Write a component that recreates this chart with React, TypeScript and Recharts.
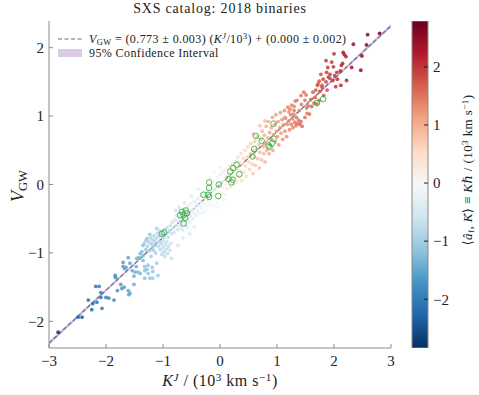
import React from "react";
import { Area, Bar, BarChart, ComposedChart, Line, Scatter, XAxis, YAxis } from "recharts";

const W = 479;
const H = 395;
const FONT = '"Liberation Serif", "DejaVu Serif", serif';

const xTicks = [-3, -2, -1, 0, 1, 2, 3];
const yTicks = [-2, -1, 0, 1, 2];
const cbTicks = [-2, -1, 0, 1, 2];
const xDomain = [-3, 3];
const yDomain = [-2.39, 2.39];
const cDomain = [-2.84, 2.79];

// linear fit quoted in the legend
const fitSlope = 0.773;
const fitSlopeErr = 0.003;
const fitIntercept = 0.0;
const fitInterceptErr = 0.002;
const fitGrid = [-3, -2, -1, 0, 1, 2, 3];

// [K^J, V_GW, colour value]
const blueTail: number[][] = [
  [-2.84, -2.16, -2.75], [-2.49, -1.94, -2.4], [-2.42, -1.94, -2.35],
  [-2.31, -1.69, -2.2], [-2.25, -1.83, -2.2], [-2.23, -1.74, -2.15], [-2.16, -1.72, -2.1],
  [-2.18, -1.49, -2.05], [-2.12, -1.49, -2.0], [-2.09, -1.58, -2.0], [-2.09, -1.65, -2.05],
  [-2.07, -1.81, -2.0], [-2.0, -1.65, -1.95], [-1.95, -1.66, -1.9], [-1.86, -1.69, -1.8],
  [-1.84, -1.33, -1.8], [-1.83, -1.36, -1.75], [-1.8, -1.55, -1.7], [-1.74, -1.46, -1.65],
  [-1.72, -1.52, -1.7], [-1.7, -1.2, -1.6], [-1.67, -1.23, -1.6], [-1.68, -1.5, -1.6],
  [-1.61, -1.07, -1.5], [-1.6, -1.61, -1.5], [-1.58, -1.15, -1.5], [-1.51, -1.46, -1.4],
  [-1.51, -1.34, -1.4], [-1.47, -1.2, -1.4], [-1.46, -1.08, -1.35], [-1.42, -1.07, -1.35],
  [-1.44, -1.28, -1.3], [-1.4, -1.01, -1.3], [-1.37, -0.98, -1.25], [-1.35, -1.11, -1.25],
  [-1.32, -1.2, -1.2], [-1.28, -1.24, -1.2], [-1.26, -1.3, -1.15], [-1.23, -1.37, -1.1],
  [-1.18, -1.27, -1.1], [-1.11, -1.15, -1.0], [-1.09, -1.33, -1.0], [-1.19, -0.93, -1.1],
  [-1.14, -0.89, -1.05], [-1.28, -0.79, -1.15], [-1.23, -0.73, -1.1], [-1.35, -0.89, -1.2],
  [-1.11, -0.64, -0.95], [-1.7, -1.14, -1.6], [-1.65, -1.21, -1.55], [-1.54, -1.26, -1.45],
  [-1.49, -1.28, -1.4], [-1.35, -1.04, -1.25], [-1.26, -1.18, -1.15], [-1.19, -1.21, -1.1],
  [-1.32, -1.26, -1.2], [-1.4, -1.3, -1.3], [-1.18, -1.37, -1.05], [-1.32, -1.37, -1.2],
  [-1.58, -1.59, -1.5], [-1.61, -1.55, -1.5],
];

const coreBand: number[][] = [
  [-1.33, -0.86, -1.0], [-1.3, -0.82, -1.0], [-1.27, -0.9, -0.95], [-1.25, -0.84, -0.95],
  [-1.22, -0.78, -0.9], [-1.2, -0.87, -0.95], [-1.18, -0.81, -0.9], [-1.16, -0.75, -0.85],
  [-1.14, -0.84, -0.9], [-1.12, -0.79, -0.85], [-1.1, -0.71, -0.8], [-1.08, -0.76, -0.8],
  [-1.3, -0.95, -1.05], [-1.24, -0.97, -1.0], [-1.17, -0.96, -0.95], [-1.13, -1.0, -0.95],
  [-1.21, -1.05, -1.0], [-1.06, -0.68, -0.75],
  [-1.08, -0.9, -0.8], [-1.05, -0.95, -0.8], [-1.03, -0.87, -0.75], [-1.0, -0.92, -0.75],
  [-0.98, -0.98, -0.8], [-0.96, -0.88, -0.7], [-0.94, -0.94, -0.7], [-0.92, -1.01, -0.75],
  [-0.9, -0.9, -0.7], [-0.88, -0.96, -0.65], [-1.02, -1.02, -0.8], [-0.97, -1.05, -0.75],
  [-1.06, -0.84, -0.8], [-0.86, -0.86, -0.65], [-0.93, -0.84, -0.7], [-1.0, -0.83, -0.75],
  [-1.04, -0.74, -0.85], [-1.01, -0.7, -0.8], [-0.99, -0.78, -0.8], [-0.97, -0.66, -0.75],
  [-0.95, -0.72, -0.75], [-0.93, -0.63, -0.7], [-0.91, -0.77, -0.7], [-0.89, -0.68, -0.7],
  [-0.87, -0.6, -0.65], [-0.85, -0.72, -0.65],
  [-0.84, -0.55, -0.65], [-0.82, -0.64, -0.6], [-0.8, -0.7, -0.6], [-0.79, -0.52, -0.6],
  [-0.77, -0.6, -0.55], [-0.76, -0.45, -0.55], [-0.74, -0.66, -0.55], [-0.73, -0.54, -0.55],
  [-0.71, -0.48, -0.5], [-0.7, -0.61, -0.5], [-0.68, -0.4, -0.5], [-0.67, -0.56, -0.5],
  [-0.66, -0.66, -0.5], [-0.64, -0.47, -0.45], [-0.63, -0.36, -0.45], [-0.61, -0.53, -0.45],
  [-0.6, -0.6, -0.4], [-0.78, -0.38, -0.55], [-0.72, -0.33, -0.5],
  [-0.59, -0.43, -0.4], [-0.57, -0.5, -0.4], [-0.56, -0.32, -0.4], [-0.55, -0.4, -0.35],
  [-0.53, -0.55, -0.35], [-0.52, -0.46, -0.35], [-0.51, -0.28, -0.35], [-0.49, -0.37, -0.3],
  [-0.48, -0.5, -0.3], [-0.46, -0.42, -0.3], [-0.45, -0.25, -0.3], [-0.44, -0.33, -0.3],
  [-0.42, -0.45, -0.25], [-0.41, -0.28, -0.25], [-0.4, -0.38, -0.25], [-0.58, -0.62, -0.4],
  [-0.39, -0.2, -0.25], [-0.37, -0.31, -0.2], [-0.36, -0.42, -0.2], [-0.35, -0.24, -0.2],
  [-0.33, -0.15, -0.2], [-0.32, -0.34, -0.2], [-0.3, -0.27, -0.15], [-0.29, -0.4, -0.15],
  [-0.28, -0.19, -0.15], [-0.26, -0.1, -0.15], [-0.25, -0.3, -0.1], [-0.24, -0.22, -0.1],
  [-0.22, -0.36, -0.1], [-0.21, -0.14, -0.1], [-0.2, -0.25, -0.1],
  [-0.74, -0.89, -0.55], [-0.53, -0.72, -0.4], [-0.65, -0.78, -0.45], [-0.85, -1.08, -0.7],
  [-0.45, -0.62, -0.3], [-0.62, -0.27, -0.45], [-0.5, -0.17, -0.35], [-0.38, -0.07, -0.25],
  [-0.19, -0.06, -0.1], [-0.18, -0.3, -0.1], [-0.16, -0.17, -0.05], [-0.15, 0.02, -0.05],
  [-0.14, -0.24, -0.05], [-0.12, -0.1, 0.0], [-0.11, -0.31, 0.0], [-0.1, 0.05, 0.0],
  [-0.08, -0.15, 0.0], [-0.07, -0.04, 0.0], [-0.06, -0.26, 0.05], [-0.05, 0.1, 0.05],
  [-0.03, -0.09, 0.05], [-0.02, -0.2, 0.05], [-0.01, 0.03, 0.05], [0.01, 0.15, 0.1],
  [0.02, -0.12, 0.1], [0.04, 0.04, 0.1], [0.05, -0.05, 0.1], [0.06, 0.19, 0.15],
  [0.08, -0.14, 0.15], [0.09, 0.1, 0.15], [0.1, 0.0, 0.15], [0.12, 0.22, 0.2],
  [0.13, -0.06, 0.2], [0.14, 0.14, 0.2], [0.16, 0.05, 0.2], [0.17, 0.27, 0.25],
  [0.18, -0.03, 0.25], [0.2, 0.17, 0.25], [0.21, 0.08, 0.3], [0.22, 0.3, 0.3],
  [0.24, 0.0, 0.3], [0.25, 0.21, 0.3], [0.27, 0.11, 0.35], [0.28, 0.33, 0.35],
  [0.29, 0.04, 0.35], [-0.17, 0.1, -0.1], [-0.09, 0.17, 0.0], [0.0, 0.25, 0.1],
  [-0.04, -0.33, 0.0], [0.07, -0.22, 0.1],
  [0.3, 0.23, 0.35], [0.31, 0.4, 0.4], [0.33, 0.12, 0.4], [0.34, 0.32, 0.4],
  [0.36, 0.2, 0.45], [0.37, 0.45, 0.45], [0.38, 0.06, 0.45], [0.4, 0.3, 0.5],
  [0.41, 0.38, 0.5], [0.42, 0.18, 0.5], [0.44, 0.5, 0.55], [0.45, 0.27, 0.55],
  [0.46, 0.12, 0.55], [0.48, 0.4, 0.6], [0.49, 0.55, 0.6], [0.5, 0.33, 0.6],
  [0.52, 0.22, 0.6], [0.53, 0.45, 0.65], [0.54, 0.6, 0.65], [0.56, 0.3, 0.65],
  [0.57, 0.5, 0.7], [0.58, 0.16, 0.7], [0.6, 0.4, 0.7], [0.61, 0.63, 0.75],
  [0.62, 0.28, 0.75], [0.64, 0.52, 0.75], [0.65, 0.7, 0.8], [0.66, 0.38, 0.8],
  [0.68, 0.58, 0.8], [0.69, 0.24, 0.8], [0.7, 0.47, 0.85], [0.72, 0.66, 0.85],
  [0.73, 0.36, 0.85], [0.74, 0.78, 0.9], [0.76, 0.55, 0.9], [0.77, 0.45, 0.9],
  [0.78, 0.72, 0.95], [0.79, 0.33, 0.9], [0.79, 0.93, 0.9], [0.7, 0.86, 0.8], [0.58, 0.74, 0.7],
  [0.8, 0.6, 0.95], [0.81, 0.85, 1.0], [0.82, 0.5, 0.95], [0.84, 0.68, 1.0],
  [0.85, 0.92, 1.0], [0.86, 0.45, 1.0], [0.87, 0.76, 1.05], [0.88, 0.58, 1.0],
  [0.9, 0.83, 1.05], [0.91, 0.66, 1.05], [0.92, 0.98, 1.1], [0.93, 0.5, 1.05],
  [0.94, 0.73, 1.1], [0.96, 0.88, 1.1], [0.97, 0.62, 1.1], [0.98, 1.02, 1.15],
  [0.99, 0.78, 1.15], [1.01, 0.7, 1.15], [1.02, 0.92, 1.15], [1.03, 0.58, 1.15],
  [1.05, 0.83, 1.2], [1.06, 1.05, 1.2], [1.07, 0.75, 1.2], [1.09, 0.95, 1.25],
  [1.1, 0.66, 1.2], [1.11, 0.87, 1.25], [1.13, 1.08, 1.3], [1.14, 0.78, 1.25],
  [1.15, 0.97, 1.3], [1.17, 0.7, 1.3], [1.18, 0.88, 1.3], [1.19, 1.13, 1.35],
  [1.21, 0.93, 1.35], [1.22, 0.8, 1.35], [1.24, 1.02, 1.4], [1.25, 0.88, 1.4],
  [1.27, 0.96, 1.4], [1.28, 0.83, 1.4], [1.3, 1.08, 1.45], [1.31, 0.91, 1.45],
  [1.33, 0.86, 1.45], [1.34, 0.98, 1.5], [1.36, 0.89, 1.5], [1.38, 0.94, 1.5],
  [1.4, 0.88, 1.55], [1.42, 0.92, 1.55], [1.44, 0.85, 1.55], [1.26, 1.16, 1.4],
  [1.32, 1.22, 1.45], [1.23, 1.1, 1.35],
];

const redTail: number[][] = [
  [2.8, 2.21, 2.75], [2.59, 2.19, 2.6], [2.34, 2.05, 2.4], [2.57, 2.04, 2.55],
  [2.16, 1.93, 2.2], [2.18, 1.9, 2.2], [2.21, 1.87, 2.25], [2.0, 1.91, 2.05],
  [2.31, 1.71, 2.3], [2.47, 1.67, 2.4], [2.49, 1.88, 2.5], [2.13, 1.74, 2.1],
  [1.96, 1.79, 2.0], [1.86, 1.81, 1.95], [1.99, 1.72, 2.0], [1.89, 1.71, 1.95],
  [2.05, 1.64, 2.0], [2.11, 1.66, 2.1], [1.93, 1.61, 1.95], [2.01, 1.59, 2.0],
  [2.06, 1.54, 2.05], [1.98, 1.52, 1.95], [2.22, 1.52, 2.15], [2.12, 1.45, 2.1],
  [2.03, 1.43, 2.0], [1.87, 1.64, 1.9], [1.77, 1.61, 1.8], [1.81, 1.54, 1.85],
  [1.74, 1.51, 1.75], [1.86, 1.5, 1.85], [1.9, 1.57, 1.9], [1.71, 1.45, 1.75],
  [1.79, 1.42, 1.8], [1.68, 1.38, 1.7], [1.63, 1.35, 1.65], [1.75, 1.36, 1.75],
  [1.88, 1.38, 1.85], [1.67, 1.27, 1.65], [1.82, 1.3, 1.8], [1.74, 1.23, 1.7],
  [1.59, 1.24, 1.6], [1.65, 1.19, 1.6], [1.55, 1.15, 1.55], [1.47, 1.35, 1.5],
  [1.42, 1.3, 1.45], [1.51, 1.31, 1.5], [1.49, 1.23, 1.5], [1.35, 1.23, 1.4],
  [1.3, 1.14, 1.35], [1.43, 1.17, 1.45], [1.39, 1.08, 1.4], [1.52, 1.12, 1.5],
  [1.57, 1.03, 1.55], [1.29, 1.03, 1.3], [1.21, 1.06, 1.25], [1.14, 0.98, 1.2],
  [1.61, 1.14, 1.6], [1.53, 1.04, 1.5], [1.49, 0.98, 1.5], [1.7, 1.18, 1.65],
  [1.79, 1.45, 1.8], [1.72, 1.47, 1.75], [1.93, 1.55, 1.9], [2.15, 1.77, 2.15],
];

// green open circles [K^J, V_GW]
const highlight: number[][] = [
  [-1.02, -0.72], [-0.98, -0.7], [-0.6, -0.38], [-0.67, -0.4], [-0.64, -0.44],
  [-0.7, -0.45], [-0.61, -0.49], [-0.64, -0.57], [-0.58, -0.42],
  [-0.29, -0.15], [-0.21, -0.15], [-0.19, -0.18], [-0.19, 0.03], [-0.19, -0.05],
  [-0.02, 0.0], [-0.03, -0.17],
  [0.29, 0.29], [0.23, 0.24], [0.18, 0.19], [0.34, 0.15], [0.15, 0.08], [0.22, 0.07],
  [0.2, 0.03], [0.63, 0.71], [0.73, 0.64], [0.6, 0.52], [0.57, 0.41], [0.85, 0.57],
  [0.94, 0.89], [0.94, 0.67], [0.91, 0.6], [0.87, 0.55], [1.7, 1.19], [1.81, 1.25],
];

// the colour bar is one range bar spanning the colour limits
const colorBar = [{ name: "cb", range: cDomain }];

const RDBU_R = [
  "#053061", "#2166ac", "#4393c3", "#92c5de", "#d1e5f0", "#f7f7f7",
  "#fddbc7", "#f4a582", "#d6604d", "#b2182b", "#67001f",
];

function hexRgb(h: string) {
  const n = parseInt(h.slice(1), 16);
  return [(n >> 16) & 255, (n >> 8) & 255, n & 255];
}

function cmap(c: number) {
  let t = (c - cDomain[0]) / (cDomain[1] - cDomain[0]);
  t = Math.max(0, Math.min(1, t)) * (RDBU_R.length - 1);
  const i = Math.min(Math.floor(t), RDBU_R.length - 2);
  const f = t - i;
  const a = hexRgb(RDBU_R[i]);
  const b = hexRgb(RDBU_R[i + 1]);
  const m = a.map((v, k) => Math.round(v + (b[k] - v) * f));
  return `rgb(${m[0]},${m[1]},${m[2]})`;
}

const toPts = (arr: number[][]) => arr.map(([x, y, c]) => ({ x, y, c }));
const scatterPts = [...toPts(blueTail), ...toPts(coreBand), ...toPts(redTail)];
const ringPts = highlight.map(([x, y]) => ({ x, y }));

const fitLine = fitGrid.map((x) => ({ x, y: fitSlope * x + fitIntercept }));
const fitBand = fitGrid.map((x) => {
  const s = 1.96 * Math.sqrt((fitSlopeErr * x) ** 2 + fitInterceptErr ** 2);
  const m = fitSlope * x + fitIntercept;
  return { x, band: [m - s, m + s] };
});

const fmt = (v: number) => (v < 0 ? `\u2212${Math.abs(v)}` : `${v}`);

const AXIS = "#8a8a8a";
const tickStyle = { fontSize: 15, fill: "#222", fontFamily: FONT };
const sup: React.CSSProperties = { fontSize: "0.7em", verticalAlign: "0.45em", lineHeight: 0 };
const sub: React.CSSProperties = { fontSize: "0.7em", verticalAlign: "-0.2em", lineHeight: 0 };

const Dot = (p: any) => (
  <circle cx={p.cx} cy={p.cy} r={1.9} fill={cmap(p.payload.c)} fillOpacity={0.85} />
);
const Ring = (p: any) => (
  <circle cx={p.cx} cy={p.cy} r={2.8} fill="none" stroke="#3cb043" strokeWidth={0.9} />
);

const VecK = () => (
  <span style={{ position: "relative", display: "inline-block" }}>
    <i>K</i>
    <span style={{ position: "absolute", left: "0.2em", top: "-0.62em", fontSize: "0.65em" }}>→</span>
  </span>
);

export default function App() {
  return (
    <div style={{ position: "absolute", left: 0, top: 0, width: W, height: H, fontFamily: FONT, color: "#222", background: "#fff" }}>
      <svg width={0} height={0} style={{ position: "absolute" }}>
        <defs>
          <linearGradient id="cbGrad" x1="0" y1="1" x2="0" y2="0">
            {RDBU_R.map((c, i) => (
              <stop key={i} offset={`${(i / (RDBU_R.length - 1)) * 100}%`} stopColor={c} />
            ))}
          </linearGradient>
        </defs>
      </svg>

      <div style={{ position: "absolute", left: 0, top: 0 }}>
        <ComposedChart width={W} height={H} margin={{ top: 21, right: 88, bottom: 17, left: 9 }} style={{ fontFamily: FONT }}>
          <XAxis
            type="number" dataKey="x" domain={xDomain} ticks={xTicks} allowDataOverflow
            height={30} stroke={AXIS} tickSize={-4} tickMargin={11} tick={tickStyle}
            tickFormatter={fmt} interval={0}
          />
          <XAxis
            xAxisId="top" orientation="top" type="number" dataKey="x" domain={xDomain} ticks={xTicks}
            height={0} stroke={AXIS} tickSize={-4} tickFormatter={() => ""} interval={0}
          />
          <YAxis
            type="number" dataKey="y" domain={yDomain} ticks={yTicks} allowDataOverflow
            width={40} stroke={AXIS} tickSize={-4} tickMargin={9} tick={tickStyle}
            tickFormatter={fmt} interval={0}
          />
          <YAxis
            yAxisId="right" orientation="right" type="number" dataKey="y" domain={yDomain} ticks={yTicks}
            width={0} stroke={AXIS} tickSize={-4} tickFormatter={() => ""} interval={0}
          />
          <Scatter data={scatterPts} shape={Dot} isAnimationActive={false} />
          <Scatter data={ringPts} shape={Ring} isAnimationActive={false} />
          <Area
            data={fitBand} dataKey="band" type="linear" stroke="#c7b3e3" strokeWidth={1} fill="#b9a3d9"
            fillOpacity={0.7} isAnimationActive={false}
          />
          <Line
            data={fitLine} dataKey="y" type="linear" stroke="#707070" strokeWidth={1.1}
            strokeDasharray="4 2.5" dot={false} isAnimationActive={false}
          />
        </ComposedChart>
      </div>

      <div style={{ position: "absolute", left: 0, top: 0 }}>
        <BarChart
          width={W} height={H} data={colorBar} barCategoryGap={0} barGap={0}
          margin={{ top: 21, right: 21, bottom: 47, left: 412 }} style={{ fontFamily: FONT }}
        >
          <XAxis dataKey="name" type="category" hide />
          <YAxis
            orientation="right" type="number" domain={cDomain} ticks={cbTicks} allowDataOverflow
            width={30} axisLine={false} tickSize={-4} tickMargin={9} tick={tickStyle}
            tickLine={{ stroke: "#222" }} tickFormatter={fmt} interval={0}
          />
          <Bar dataKey="range" fill="url(#cbGrad)" stroke={AXIS} strokeWidth={1} isAnimationActive={false} />
        </BarChart>
      </div>

      {/* title */}
      <div style={{ position: "absolute", left: 49, width: 342, top: 0, lineHeight: "18px", textAlign: "center", fontSize: 14, letterSpacing: "0.8px" }}>
        SXS catalog: 2018 binaries
      </div>

      {/* legend */}
      <svg style={{ position: "absolute", left: 0, top: 0 }} width={100} height={70}>
        <line x1={58} x2={82} y1={39} y2={39} stroke="#707070" strokeWidth={1.1} strokeDasharray="4 2.5" />
        <rect x={58} y={49} width={24} height={8} fill="#d9cbe8" />
      </svg>
      <div style={{ position: "absolute", left: 89, top: 32, fontSize: 12, lineHeight: "14px", whiteSpace: "nowrap", letterSpacing: "0.4px" }}>
        <i>V</i><span style={sub}>GW</span> = (0.773 ± 0.003) (<i>K</i><span style={sup}><i>J</i></span>/10<span style={sup}>3</span>) + (0.000 ± 0.002)
      </div>
      <div style={{ position: "absolute", left: 89, top: 47, fontSize: 12, lineHeight: "13px", whiteSpace: "nowrap", letterSpacing: "0.4px" }}>
        95% Confidence Interval
      </div>

      {/* axis labels */}
      <div style={{ position: "absolute", left: 220, top: 381, transform: "translate(-50%,-50%)", fontSize: 16, letterSpacing: "0.5px", whiteSpace: "nowrap", lineHeight: "18px" }}>
        <i>K</i><span style={sup}><i>J</i></span> / (10<span style={sup}>3</span> km s<span style={sup}>−1</span>)
      </div>
      <div style={{ position: "absolute", left: 18, top: 186, transform: "translate(-50%,-50%) rotate(-90deg)", fontSize: 18, whiteSpace: "nowrap", lineHeight: "20px" }}>
        <i>V</i><span style={sub}>GW</span>
      </div>
      <div style={{ position: "absolute", left: 468, top: 170, transform: "translate(-50%,-50%) rotate(-90deg)", fontSize: 13, letterSpacing: "0.4px", whiteSpace: "nowrap", lineHeight: "16px" }}>
        ⟨<i>â</i><span style={sub}>f</span>, <VecK />⟩ ≡ <i>Kℏ</i> / (10<span style={sup}>3</span> km s<span style={sup}>−1</span>)
      </div>
    </div>
  );
}
